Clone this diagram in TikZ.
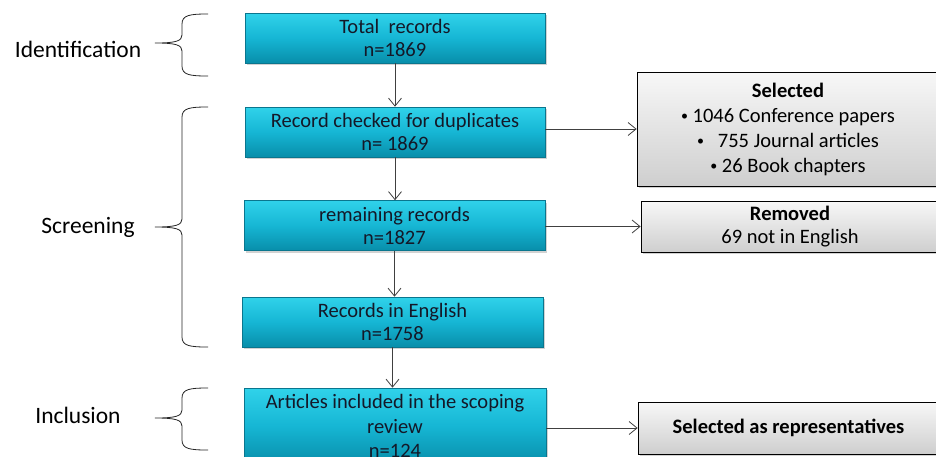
\documentclass[tikz,border=0pt]{standalone}
\usepackage{fontspec}
\setmainfont{Carlito}
\usetikzlibrary{arrows.meta,shadows,calc}
\definecolor{cyanT}{RGB}{48,210,234}
\definecolor{cyanM}{RGB}{22,182,212}
\definecolor{cyanB}{RGB}{8,142,170}
\definecolor{cyanE}{RGB}{10,118,142}
\definecolor{txt}{RGB}{20,24,40}
\definecolor{linec}{RGB}{64,64,64}
\newcommand\mybrace[3]{%
  \draw[brace] (208,#1) .. controls (190,#1) and (182,#1+1) .. (182,#1+10)
    -- (182,#2-8) .. controls (182,#2-2) and (176,#2) .. (155,#2)
    .. controls (176,#2) and (182,#2+2) .. (182,#2+8)
    -- (182,#3-10) .. controls (182,#3-1) and (190,#3) .. (208,#3);}
\newcommand\smbul{{\fontsize{14}{14}\selectfont\raisebox{2pt}{•}}}
\begin{document}
\begin{tikzpicture}[x=1pt,y=-1pt,
  cbox/.style={draw=cyanE, line width=0.6pt, top color=cyanT, bottom color=cyanB, middle color=cyanM,
    minimum width=300pt, minimum height=50pt, inner sep=0pt, align=center,
    font=\fontsize{20.5}{23}\selectfont, text=txt,
    drop shadow={shadow xshift=1.5pt, shadow yshift=-2pt, opacity=0.35}},
  gbox/.style={draw=black, line width=0.7pt, top color=gray!6, bottom color=gray!38,
    inner sep=0pt, align=center, font=\fontsize{20.5}{25}\selectfont, text=black,
    drop shadow={shadow xshift=1.5pt, shadow yshift=-2pt, opacity=0.35}},
  arr/.style={draw=linec, line width=0.8pt, -{Straight Barb[length=8pt,width=13pt]}},
  lab/.style={font=\fontsize{23.5}{26}\selectfont, text=black, inner sep=0pt},
  brace/.style={draw=black!85, line width=0.8pt}
]
\useasboundingbox (0,0) rectangle (936,456);
\clip (0,0) rectangle (936,456);
\fill[white] (0,0) rectangle (936,456);

% left labels and braces
\node[lab] (lid) at (78,49) {Identification};
\node[lab] (lsc) at (88,227) {Screening};
\node[lab] (lin) at (78,415) {Inclusion};
\mybrace{14}{43}{76}
\mybrace{107}{227}{347}
\mybrace{388}{418}{450}

% main flow
\node[cbox] (b1) at (395,38) {Total\ \ records\\n=1869};
\node[cbox] (b2) at (395,132) {Record checked for duplicates\\n= 1869};
\node[cbox, minimum width=301pt] (b3) at (394.5,225.5) {remaining records\\n=1827};
\node[cbox, minimum width=301pt] (b4) at (392.5,322) {Records in English\\n=1758};
\node[cbox, minimum width=302pt, minimum height=76pt, font=\fontsize{20.5}{24.5}\selectfont] (b5) at (395,426) {Articles included in the scoping\\review\\n=124};

% side boxes
\node[gbox, minimum width=302pt, minimum height=114pt] (s1) at (788,129)
  {\textbf{Selected}\\\smbul\ 1046 Conference papers\\\smbul\ \ \ 755 Journal articles\\\smbul\ 26 Book chapters};
\node[gbox, minimum width=298pt, minimum height=51pt, font=\fontsize{20.5}{23}\selectfont] (s2) at (790,226.5)
  {\textbf{Removed}\\69 not in English};
\node[gbox, minimum width=301pt, minimum height=52pt] (s3) at (788.5,428)
  {\textbf{Selected as representatives}};

% connectors
\draw[arr] (b1.south) -- (b1.south |- b2.north);
\draw[arr] (b2.south) -- (b2.south |- b3.north);
\draw[arr] (b3.south) -- (b3.south |- b4.north);
\draw[arr] (b4.south) -- (b4.south |- b5.north);
\draw[arr] (b2.east |- s1.west) -- (s1.west);
\draw[arr] (b3.east |- s2.west) -- (s2.west);
\draw[arr] (b5.east |- s3.west) -- (s3.west);
\end{tikzpicture}
\end{document}
